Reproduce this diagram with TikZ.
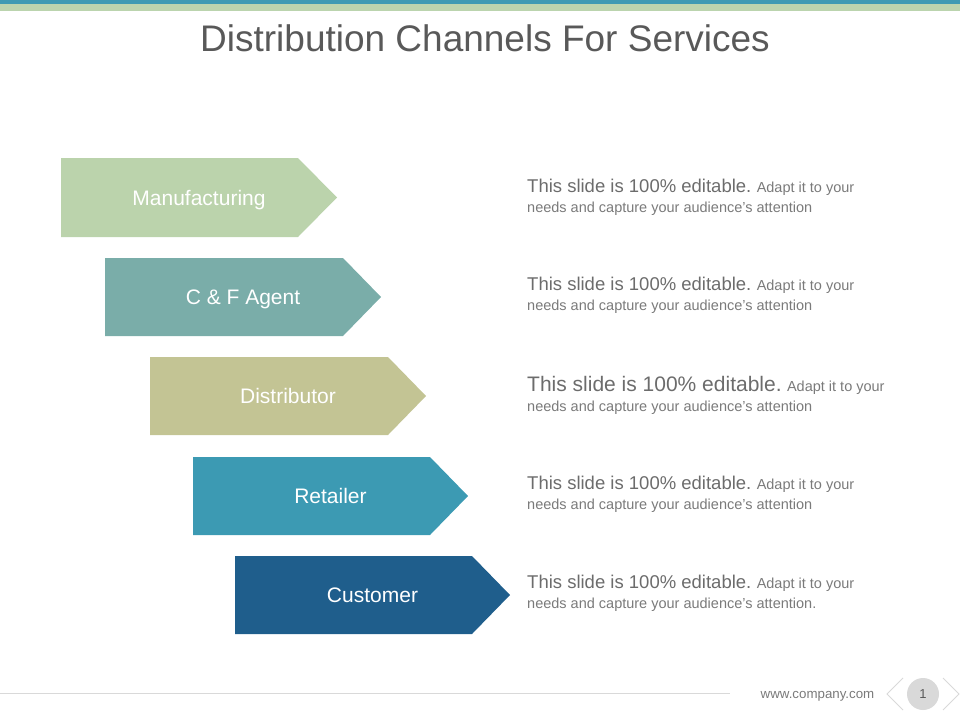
\documentclass[tikz,border=0pt]{standalone}
\usepackage{fontspec}
\setmainfont{Liberation Sans}
\usepackage{tikz}
\definecolor{barTeal}{RGB}{62, 154, 179}
\definecolor{barGreen}{RGB}{187, 212, 174}
\definecolor{chanGreen}{RGB}{187, 211, 172}
\definecolor{chanTeal}{RGB}{122, 173, 169}
\definecolor{chanOlive}{RGB}{195, 196, 148}
\definecolor{chanBlue}{RGB}{60, 154, 179}
\definecolor{chanNavy}{RGB}{31, 94, 140}
\definecolor{titleGray}{RGB}{89, 89, 89}
\definecolor{descDark}{RGB}{108, 108, 108}
\definecolor{descLight}{RGB}{122, 122, 122}
\definecolor{footGray}{RGB}{217, 217, 217}
\tikzset{
  chanlabel/.style={anchor=base, text=white, font=\fontsize{21}{24}\selectfont, inner sep=0pt},
  desc/.style={anchor=base west, align=left, text=descLight, inner sep=0pt,
    font=\fontsize{14.5}{19.5}\selectfont},
  chev/.style={footGray, line width=1pt},
}
\newcommand{\leadpart}[1]{{\color{descDark}\fontsize{18.5}{19.5}\selectfont #1}}

\begin{document}
\begin{tikzpicture}[x=1pt, y=-1pt]
        \useasboundingbox (0,0) rectangle (960,720);
        \fill[barTeal] (0,0) rectangle (960,4);
        \fill[barGreen] (0,4) rectangle (960,11);
        \node[anchor=base, text=titleGray, font=\fontsize{37}{40}\selectfont] (title) at (485,51) {Distribution Channels For Services};

        \fill[chanGreen] (61,158) -- (298,158) -- (337,197.5) -- (298,237) -- (61,237) -- cycle;
        \fill[chanTeal] (105,258) -- (343,258) -- (381,297) -- (343,336) -- (105,336) -- cycle;
        \fill[chanOlive] (150,357) -- (388,357) -- (426,396) -- (388,435) -- (150,435) -- cycle;
        \fill[chanBlue] (193,457) -- (430,457) -- (468,496) -- (430,535) -- (193,535) -- cycle;
        \fill[chanNavy] (235,556) -- (472,556) -- (510,595) -- (472,634) -- (235,634) -- cycle;
        \node[chanlabel] (mfg) at (199,205) {Manufacturing};
        \node[chanlabel] (agent) at (243,304.5) {C \& F Agent};
        \node[chanlabel] (dist) at (288,403.5) {Distributor};
        \node[chanlabel] (retail) at (330.5,503.5) {Retailer};
        \node[chanlabel] (cust) at (372.5,602.5) {Customer};

        \node[desc] (descA) at (527,212) {\leadpart{This slide is 100\% editable.} Adapt it to your\\needs and capture your audience’s attention};
        \node[desc] (descB) at (527,310) {\leadpart{This slide is 100\% editable.} Adapt it to your\\needs and capture your audience’s attention};
        \node[desc] (descC) at (527,411) {{\color{descDark}\fontsize{21}{19.5}\selectfont This slide is 100\% editable.} Adapt it to your\\needs and capture your audience’s attention};
        \node[desc] (descD) at (527,509) {\leadpart{This slide is 100\% editable.} Adapt it to your\\needs and capture your audience’s attention};
        \node[desc] (descE) at (527,608) {\leadpart{This slide is 100\% editable.} Adapt it to your\\needs and capture your audience’s attention.};

        \draw[footGray, line width=0.8pt] (0,693) -- (730,693);
        \node[anchor=base, text=descLight, font=\fontsize{13.3}{15}\selectfont] (web) at (817.5,698) {www.company.com};
        \node[circle, fill=footGray, minimum size=32pt, inner sep=0pt, text=titleGray, font=\fontsize{13}{15}\selectfont] (page) at (923,694) {1};
        \draw[chev] (903,678) -- (887,694) -- (903,710);
        \draw[chev] (943,678) -- (959,694) -- (943,710);
      \end{tikzpicture}
\end{document}
